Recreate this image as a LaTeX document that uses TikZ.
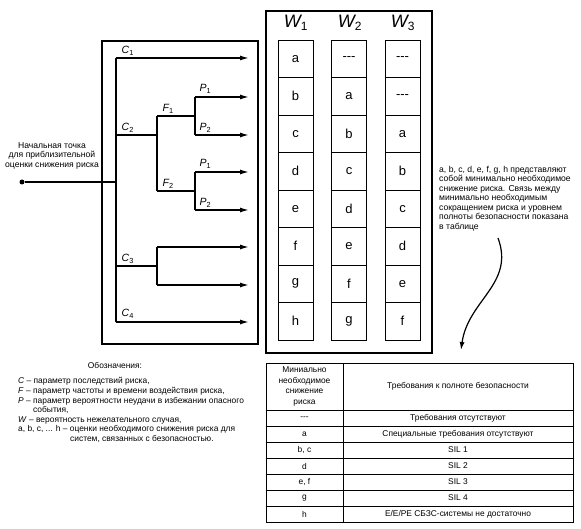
\documentclass[tikz,border=0pt]{standalone}
\usepackage{fontspec}
\setmainfont{Liberation Sans}
\usetikzlibrary{arrows.meta}
\tikzset{
  tree/.style={line width=1.4pt},
  arr/.style={tree,-{Latex[length=9pt,width=5pt]}},
  lab/.style={font=\fontsize{10.5}{10.5}\selectfont\itshape, anchor=south west, inner sep=0.5pt},
  cell/.style={draw, line width=0.9pt, minimum width=35pt, minimum height=37.5pt, font=\fontsize{13}{13}\selectfont, inner sep=0},
  txt/.style={font=\fontsize{8.6}{9.5}\selectfont, inner sep=0},
  legtxt/.style={font=\fontsize{8.4}{9.6}\selectfont, inner sep=0},
  tcell/.style={draw, line width=0.8pt, inner sep=0, font=\fontsize{8.4}{10.8}\selectfont, align=center},
  whead/.style={font=\fontsize{18}{18}\selectfont\itshape, inner sep=0}
}
\begin{document}
\begin{tikzpicture}[x=1pt,y=-1pt]
\useasboundingbox (0,0) rectangle (581,529);
% boxes
\node (lbox) [draw, line width=1.4pt, minimum width=156pt, minimum height=303pt, inner sep=0] at (180,192.5) {};
\node (wbox) [draw, line width=1.8pt, minimum width=166pt, minimum height=342pt, inner sep=0] at (349,182) {};
% W columns
\node[whead] (w1) at (296,23) {W\textsubscript{\upshape\fontsize{12}{12}\selectfont 1}};
\node[whead] (w2) at (350,23) {W\textsubscript{\upshape\fontsize{12}{12}\selectfont 2}};
\node[whead] (w3) at (403,23) {W\textsubscript{\upshape\fontsize{12}{12}\selectfont 3}};
\foreach \t [count=\i] in {a,b,c,d,e,f,g,h}
  \node[cell] (ca\i) at (295.5,{40+37.5*(\i-0.5)}) {\t};
\foreach \t [count=\i] in {{-{}-{}-},a,b,c,d,e,f,g}
  \node[cell] (cb\i) at (349,{40+37.5*(\i-0.5)}) {\t};
\foreach \t [count=\i] in {{-{}-{}-},{-{}-{}-},a,b,c,d,e,f}
  \node[cell] (cc\i) at (402.5,{40+37.5*(\i-0.5)}) {\t};
% tree
\node (start) [circle, fill, inner sep=0, minimum size=5pt] at (22,182) {};
\node[txt, align=center, anchor=south] (startlab) at (52,169) {Начальная точка\\для приблизительной\\оценки снижения риска};
\coordinate (j) at (116,182);
\coordinate (t1) at (116,58);
\coordinate (t4) at (116,322);
\coordinate (c2) at (116,135);
\coordinate (c3) at (116,266);
\coordinate (f) at (157,135);
\coordinate (f1) at (157,116);
\coordinate (f2) at (157,191);
\coordinate (p1) at (195,116);
\coordinate (p1a) at (195,97);
\coordinate (p1b) at (195,135);
\coordinate (p2) at (195,191);
\coordinate (p2a) at (195,172);
\coordinate (p2b) at (195,210);
\coordinate (g) at (157,266);
\coordinate (ga) at (157,247);
\coordinate (gb) at (157,285);
\foreach \n/\y in {e1/58,e2/97,e3/135,e4/172,e5/210,e6/247,e7/285,e8/322}
  \coordinate (\n) at (249,\y);
\draw[tree] (start) -- (j);
\draw[tree] (t1) -- (t4);
\draw[tree] (c2) -- (f);
\draw[tree] (f1) -- (f2);
\draw[tree] (f1) -- (p1);
\draw[tree] (p1a) -- (p1b);
\draw[tree] (f2) -- (p2);
\draw[tree] (p2a) -- (p2b);
\draw[tree] (c3) -- (g);
\draw[tree] (ga) -- (gb);
\draw[arr] (t1) -- (e1);
\draw[arr] (p1a) -- (e2);
\draw[arr] (p1b) -- (e3);
\draw[arr] (p2a) -- (e4);
\draw[arr] (p2b) -- (e5);
\draw[arr] (ga) -- (e6);
\draw[arr] (gb) -- (e7);
\draw[arr] (t4) -- (e8);
% labels
\node[lab] (lc1) at (121,56) {C\textsubscript{\upshape 1}};
\node[lab] (lc2) at (121,133) {C\textsubscript{\upshape 2}};
\node[lab] (lf1) at (162,114) {F\textsubscript{\upshape 1}};
\node[lab] (lp1) at (199,94) {P\textsubscript{\upshape 1}};
\node[lab] (lp2) at (199,133) {P\textsubscript{\upshape 2}};
\node[lab] (lf2) at (162,189) {F\textsubscript{\upshape 2}};
\node[lab] (lp3) at (199,169) {P\textsubscript{\upshape 1}};
\node[lab] (lp4) at (199,208) {P\textsubscript{\upshape 2}};
\node[lab] (lc3) at (121,264) {C\textsubscript{\upshape 3}};
\node[lab] (lc4) at (121,319) {C\textsubscript{\upshape 4}};
% right note
\node[txt, align=left, anchor=north west] (note) at (439,166) {a, b, c, d, e, f, g, h представляют\\собой минимально необходимое\\снижение риска. Связь между\\минимально необходимым\\сокращением риска и уровнем\\полноты безопасности показана\\в таблице};
\coordinate (cs) at (498,238);
\coordinate (ce) at (461,350);
\draw[line width=1.2pt, -{Latex[length=8pt,width=5pt]}] (cs) .. controls (515,284) and (468,300) .. (ce);
% legend
\node[legtxt] (legt) at (115,365) {Обозначения:};
\node[legtxt, align=left, anchor=north west] (leg) at (18,377.5) {\textit{C} – параметр последствий риска,\\\textit{F} – параметр частоты и времени воздействия риска,\\\textit{P} – параметр вероятности неудачи в избежании опасного\\\hspace*{15pt}события,\\\textit{W} – вероятность нежелательного случая,\\a, b, c, ... h – оценки необходимого снижения риска для\\\hspace*{52pt}систем, связанных с безопасностью.};
% table
\node[tcell, minimum width=77pt, minimum height=47pt] (th1) at (304.5,386.5) {Миниально\\необходимое\\снижение\\риска};
\node[tcell, minimum width=230pt, minimum height=47pt] (th2) at (458,386.5) {Требования к полноте безопасности};
\foreach \a/\b [count=\i] in {{-{}-{}-}/{Требования отсутствуют}, a/{Специальные требования отсутствуют}, {b, c}/{SIL 1}, d/{SIL 2}, {e, f}/{SIL 3}, g/{SIL 4}, h/{E/E/PE СБЗС-системы не достаточно}}{
  \node[tcell, minimum width=77pt, minimum height=16pt] (ta\i) at (304.5,{410+16*(\i-0.5)}) {\a};
  \node[tcell, minimum width=230pt, minimum height=16pt] (tb\i) at (458,{410+16*(\i-0.5)}) {\b};
}
\end{tikzpicture}
\end{document}
